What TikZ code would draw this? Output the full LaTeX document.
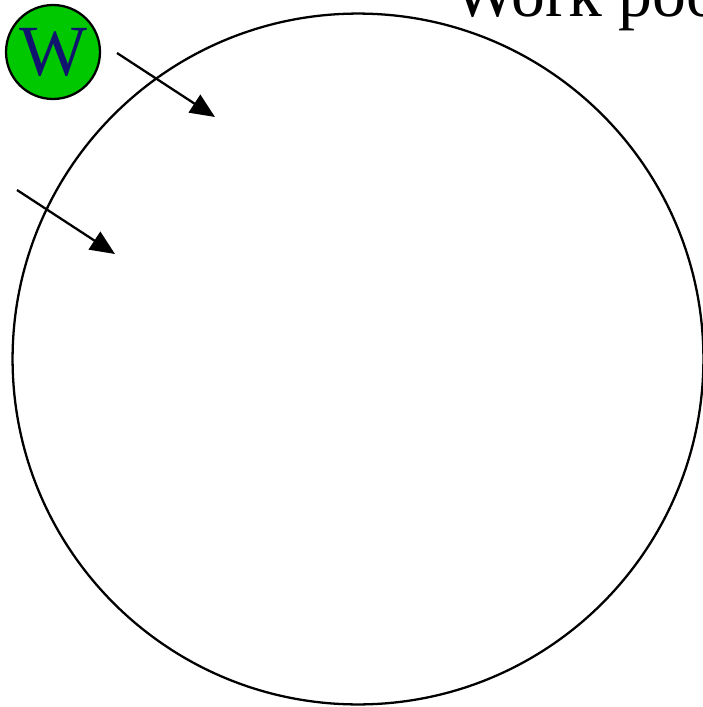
\documentclass[tikz,border=0pt]{standalone}
\usepackage{fontspec}
\setmainfont{Liberation Serif}
\usepackage{tikz}
\usetikzlibrary{positioning,arrows.meta}

\definecolor{wgreen}{RGB}{0,200,0}
\definecolor{wnavy}{RGB}{16,20,110}

\begin{document}
\begin{tikzpicture}[
  x=0.02cm, y=-0.02cm,
  pool/.style={draw, circle, line width=1.3pt, minimum size=13.82cm, inner sep=0pt},
  worker/.style={draw, circle, fill=wgreen, line width=1.3pt, minimum size=1.88cm, inner sep=0pt,
    text=wnavy, font=\fontsize{41}{44}\selectfont},
  label/.style={font=\fontsize{38.5}{42}\selectfont, inner sep=0pt, anchor=base west},
  arrow/.style={-{Triangle[length=14pt,width=12pt]}, line width=1.3pt}
]
\useasboundingbox (0,0) rectangle (703,707);
\node[pool] (pool) at (358,359) {};
\node[worker] (w) at (53,52) {W};
\node[label] (title) at (453,16) {Work pool};
\coordinate (a1) at (117,53);
\coordinate (b1) at (215,117);
\coordinate (a2) at (17,190);
\coordinate (b2) at (115,254);
\draw[arrow] (a1) -- (b1);
\draw[arrow] (a2) -- (b2);
\end{tikzpicture}
\end{document}
